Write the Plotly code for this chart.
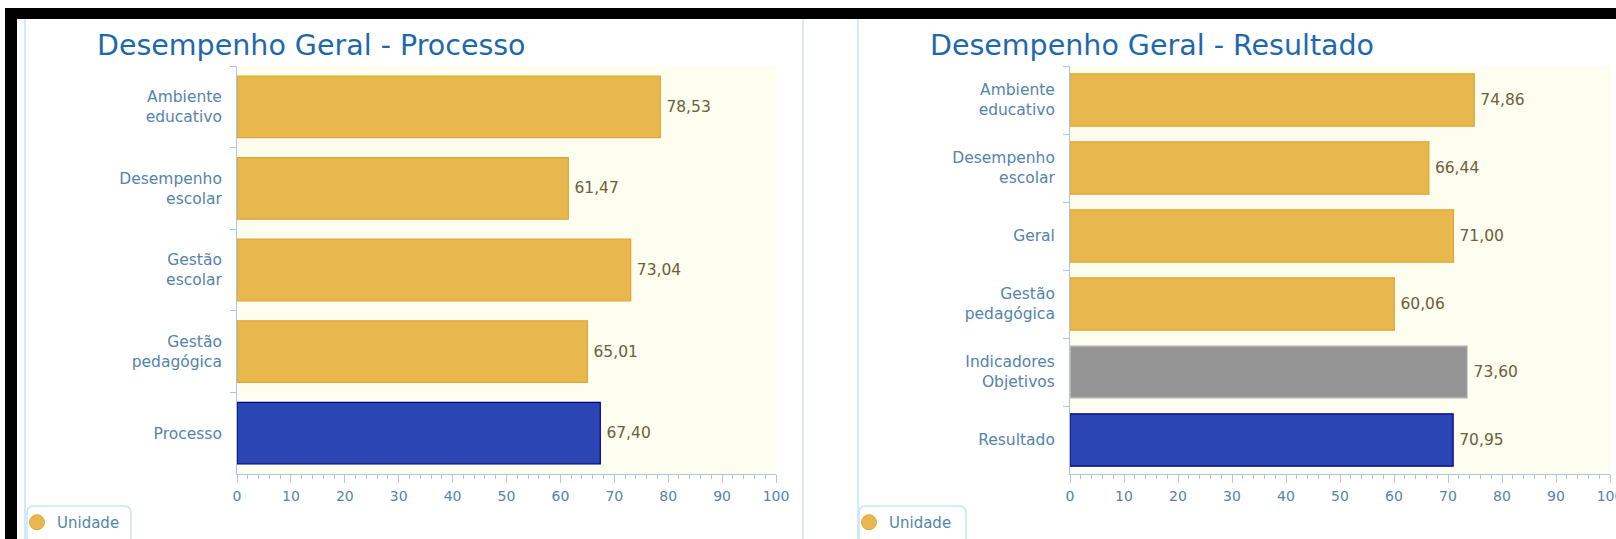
import plotly.graph_objects as go

# ---------------- data ----------------
proc_title = "Desempenho Geral - Processo"
proc_categories = ["Ambiente<br>educativo", "Desempenho<br>escolar", "Gestão<br>escolar",
                   "Gestão<br>pedagógica", "Processo"]
proc_values = [78.53, 61.47, 73.04, 65.01, 67.40]
proc_kinds = ["unidade", "unidade", "unidade", "unidade", "total"]

res_title = "Desempenho Geral - Resultado"
res_categories = ["Ambiente<br>educativo", "Desempenho<br>escolar", "Geral",
                  "Gestão<br>pedagógica", "Indicadores<br>Objetivos", "Resultado"]
res_values = [74.86, 66.44, 71.00, 60.06, 73.60, 70.95]
res_kinds = ["unidade", "unidade", "unidade", "unidade", "indicador", "total"]

series_name = "Unidade"
x_tickvals = [0, 10, 20, 30, 40, 50, 60, 70, 80, 90, 100]

# ---------------- styles ----------------
W, H = 1616, 539
FONT = "DejaVu Sans"
fill_colors = {"unidade": "#e8b84e", "indicador": "#959595", "total": "#2b46b4"}
line_colors = {"unidade": "#e0a72e", "indicador": "#cfcfcf", "total": "#000080"}
AXIS_COLOR = "#a9c7de"
LABEL_COLOR = "#5583ab"
VALUE_COLOR = "#6e5e3e"
TITLE_COLOR = "#1e68ab"
FRAME_LINE = "#c6e3f7"


def px_x(v):
    return v / W


def px_y(v):
    return 1 - v / H


def rounded_box(x0, y0, x1, y1, r):
    """SVG path (paper coords) of a rounded rectangle given in pixels."""
    rx, ry = r / W, r / H
    X0, X1, Y0, Y1 = px_x(x0), px_x(x1), px_y(y0), px_y(y1)  # Y0 top, Y1 bottom
    return (f"M{X0 + rx},{Y0} L{X1 - rx},{Y0} Q{X1},{Y0} {X1},{Y0 - ry} "
            f"L{X1},{Y1 + ry} Q{X1},{Y1} {X1 - rx},{Y1} L{X0 + rx},{Y1} "
            f"Q{X0},{Y1} {X0},{Y1 + ry} L{X0},{Y0 - ry} Q{X0},{Y0} {X0 + rx},{Y0} Z")


fig = go.Figure()

panels = [
    dict(cats=proc_categories, vals=proc_values, kinds=proc_kinds, title=proc_title,
         xa="x", ya="y", x0=237, x1=776, width=0.755, title_x=95, legend="legend",
         box=(27, 131)),
    dict(cats=res_categories, vals=res_values, kinds=res_kinds, title=res_title,
         xa="x2", ya="y2", x0=1070, x1=1610, width=0.77, title_x=928, legend="legend2",
         box=(859, 966)),
]

shapes = []
for i, p in enumerate(panels):
    fig.add_trace(go.Bar(
        x=p["vals"], y=p["cats"], orientation="h",
        width=p["width"],
        marker=dict(color=[fill_colors[k] for k in p["kinds"]],
                    line=dict(color=[line_colors[k] for k in p["kinds"]], width=1.2)),
        texttemplate="\u2009%{x:.2f}", textposition="outside", cliponaxis=False,
        textfont=dict(family=FONT, size=15.5, color=VALUE_COLOR),
        xaxis=p["xa"], yaxis=p["ya"], showlegend=False, name=series_name,
    ))
    # legend entry (circle symbol, like the source chart)
    fig.add_trace(go.Scatter(
        x=[None], y=[None], mode="markers", name=series_name,
        marker=dict(symbol="circle", size=15, color="#e8b84e",
                    line=dict(color="#dba638", width=1)),
        xaxis=p["xa"], yaxis=p["ya"], legend=p["legend"], showlegend=True,
    ))

    axis_suffix = "" if i == 0 else "2"
    fig.update_layout(**{
        "xaxis" + axis_suffix: dict(
            domain=[px_x(p["x0"]), px_x(p["x1"])], range=[0, 100],
            tickvals=x_tickvals, ticks="outside", ticklen=8, tickcolor=AXIS_COLOR,
            minor=dict(dtick=2, ticks="outside", ticklen=4, tickcolor=AXIS_COLOR),
            showline=True, linecolor=AXIS_COLOR, linewidth=1, showgrid=False, zeroline=False,
            tickfont=dict(family=FONT, size=14, color=LABEL_COLOR),
            ticklabelstandoff=1, automargin=False, ticklabeloverflow="allow",
            anchor="y" + axis_suffix, fixedrange=True,
        ),
        "yaxis" + axis_suffix: dict(
            domain=[px_y(474), px_y(66)], type="category",
            categoryorder="array", categoryarray=p["cats"],
            range=[len(p["cats"]) - 0.5, -0.5],
            ticks="outside", tickson="boundaries", ticklen=6, tickcolor=AXIS_COLOR,
            showline=True, linecolor=AXIS_COLOR, linewidth=1, showgrid=False,
            tickfont=dict(family=FONT, size=15.5, color=LABEL_COLOR),
            ticklabelstandoff=11, automargin=False,
            anchor="x" + axis_suffix, fixedrange=True,
        ),
        p["legend"]: dict(
            x=px_x(p["box"][0] - 10), xanchor="left", y=px_y(506), yanchor="top",
            borderwidth=0, bgcolor="rgba(0,0,0,0)",
            font=dict(family=FONT, size=15, color=LABEL_COLOR),
            itemwidth=30, tracegroupgap=0,
        ),
    })
    fig.add_annotation(
        text=p["title"], x=px_x(p["title_x"]), y=px_y(45), xref="paper", yref="paper",
        xanchor="left", yanchor="middle", showarrow=False,
        font=dict(family=FONT, size=28.5, color=TITLE_COLOR),
    )
    shapes.append(dict(type="path", xref="paper", yref="paper",
                       path=rounded_box(p["box"][0], 506, p["box"][1], 548, 7),
                       line=dict(color=FRAME_LINE, width=1.5), fillcolor="rgba(0,0,0,0)",
                       layer="below"))

# frame decorations (black border and light-blue panel separators)
shapes += [
    dict(type="rect", xref="paper", yref="paper", x0=px_x(5), x1=1, y0=px_y(19), y1=px_y(8),
         fillcolor="black", line=dict(width=0), layer="above"),
    dict(type="rect", xref="paper", yref="paper", x0=px_x(5), x1=px_x(17), y0=0, y1=px_y(8),
         fillcolor="black", line=dict(width=0), layer="above"),
]
for xv in [25, 803, 858]:
    shapes.append(dict(type="line", xref="paper", yref="paper", x0=px_x(xv), x1=px_x(xv),
                       y0=0, y1=px_y(19), line=dict(color=FRAME_LINE, width=1.5)))

fig.update_layout(
    width=W, height=H, margin=dict(l=0, r=0, t=0, b=0, pad=0, autoexpand=False),
    paper_bgcolor="white", plot_bgcolor="#fdfdf0",
    separators=",.", bargap=0.25, shapes=shapes,
    font=dict(family=FONT),
)

fig.write_html("out.html", config={"displayModeBar": False},
               post_script="document.body.style.margin='0';document.body.style.overflow='hidden';")
